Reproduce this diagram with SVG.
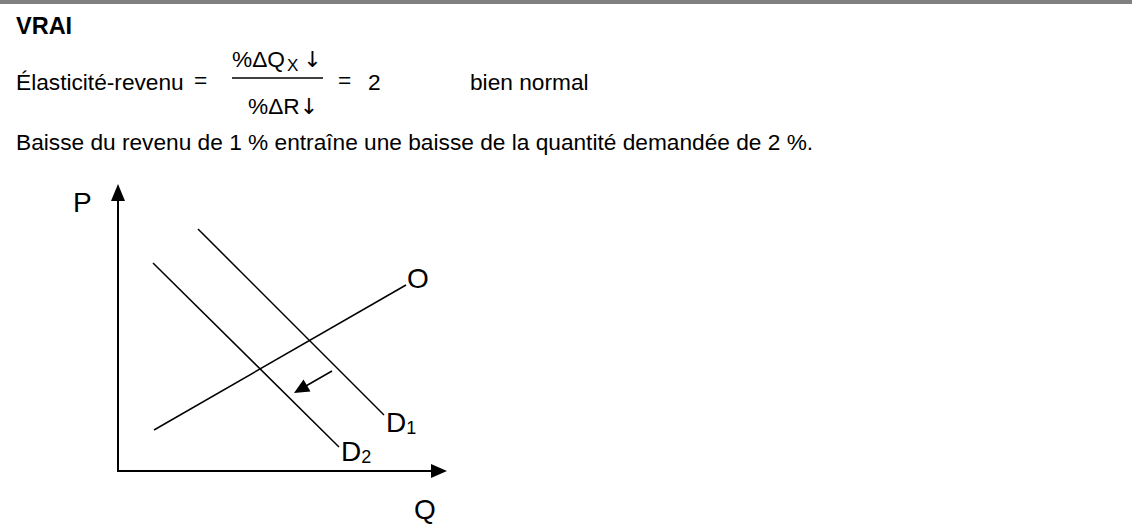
<svg xmlns="http://www.w3.org/2000/svg" width="1132" height="529" viewBox="0 0 1132 529">
<style>
text{font-family:"Liberation Sans","DejaVu Sans",Arial,sans-serif;font-size:22.7px;fill:#000}
.b{font-weight:bold;font-size:23.5px}
.sub{font-size:17px}
.lab{font-size:28px}
.lsub{font-size:18px}
.arr{font-family:"DejaVu Sans",sans-serif;font-size:22px}
.ax{stroke:#000;stroke-width:2;fill:none}
.ln{stroke:#000;stroke-width:1.5;fill:none}
</style>
<rect x="0" y="0" width="1132" height="4" fill="#808080"/>
<g id="header">
<text class="b" x="16" y="34">VRAI</text>
<text x="16" y="90">Élasticité-revenu</text>
<text x="194" y="88">=</text>
<text x="232" y="67">%ΔQ<tspan class="sub" dx="2" dy="4">X</tspan><tspan class="arr" dx="5" dy="-4">↓</tspan></text>
<line class="ln" x1="232" y1="78" x2="323" y2="78"/>
<text x="248" y="114">%ΔR<tspan class="arr">↓</tspan></text>
<text x="338" y="88">=</text>
<text x="368" y="90">2</text>
<text x="470" y="90">bien normal</text>
<text x="16" y="150">Baisse du revenu de 1 % entraîne une baisse de la quantité demandée de 2 %.</text>
</g>
<g id="axes">
<line class="ax" x1="118" y1="472" x2="118" y2="198"/>
<polygon points="118,184 111,201 125,201"/>
<line class="ax" x1="117" y1="471" x2="433" y2="471"/>
<polygon points="447,471 431,464 431,478"/>
<text class="lab" x="73" y="212">P</text>
<text class="lab" x="414" y="519">Q</text>
</g>
<g id="node-O">
<line class="ln" x1="154" y1="430" x2="406" y2="285"/>
<text class="lab" x="407" y="288">O</text>
</g>
<g id="node-D1">
<line class="ln" x1="198" y1="229" x2="384" y2="415"/>
<text class="lab" x="386" y="432">D<tspan class="lsub" dy="2">1</tspan></text>
</g>
<g id="node-D2">
<line class="ln" x1="153" y1="263" x2="339" y2="447"/>
<text class="lab" x="341" y="461">D<tspan class="lsub" dy="2">2</tspan></text>
</g>
<g id="connectors">
<line class="ln" x1="332" y1="371" x2="305" y2="386.5"/>
<polygon points="294,393 310.5,391.5 303.5,379.5"/>
</g>
</svg>
